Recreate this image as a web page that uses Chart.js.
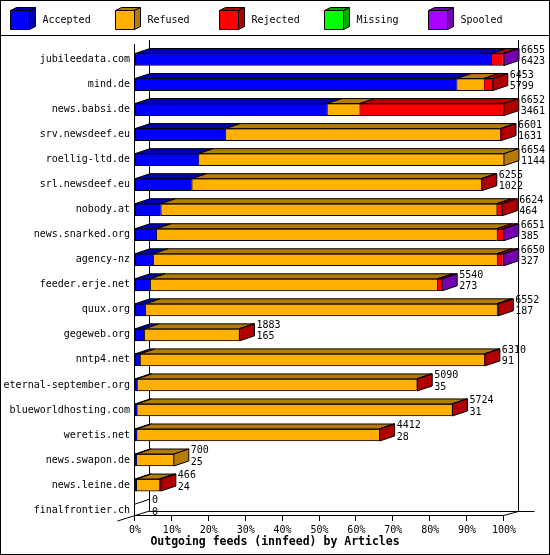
<!DOCTYPE html>
<html>
<head>
<meta charset="utf-8">
<title>Outgoing feeds (innfeed) by Articles</title>
<script src="https://cdn.jsdelivr.net/npm/chart.js@4.4.1/dist/chart.umd.min.js"></script>
<style>
  body { margin: 0; background: #fff; }
  #wrap { width: 550px; height: 555px; }
</style>
</head>
<body>
<div id="wrap"><canvas id="myChart" width="550" height="555"></canvas></div>
<script>
"use strict";
let feeds = [
  "jubileedata.com",
  "mind.de",
  "news.babsi.de",
  "srv.newsdeef.eu",
  "roellig-ltd.de",
  "srl.newsdeef.eu",
  "nobody.at",
  "news.snarked.org",
  "agency-nz",
  "feeder.erje.net",
  "quux.org",
  "gegeweb.org",
  "nntp4.net",
  "eternal-september.org",
  "blueworldhosting.com",
  "weretis.net",
  "news.swapon.de",
  "news.leine.de",
  "finalfrontier.ch",
];
// article counts per feed
let totals = [6655, 6453, 6652, 6601, 6654, 6255, 6624, 6651, 6650, 5540, 6552, 1883, 6310, 5090, 5724, 4412, 700, 466, 0];
let accepted = [6423, 5799, 3461, 1631, 1144, 1022, 464, 385, 327, 273, 187, 165, 91, 35, 31, 28, 25, 24, 0];
let refused = [0, 490, 588, 4955, 5510, 5223, 6055, 6138, 6196, 5179, 6336, 1711, 6209, 5045, 5685, 4375, 675, 415, 0];
let rejected = [210, 164, 2603, 15, 0, 10, 105, 115, 108, 79, 29, 7, 10, 10, 8, 9, 0, 27, 0];
let missing = [0, 0, 0, 0, 0, 0, 0, 0, 0, 0, 0, 0, 0, 0, 0, 0, 0, 0, 0];
let spooled = [22, 0, 0, 0, 0, 0, 0, 13, 19, 9, 0, 0, 0, 0, 0, 0, 0, 0, 0];
let seriesNames = ["Accepted", "Refused", "Rejected", "Missing", "Spooled"];
let xTicks = [0, 10, 20, 30, 40, 50, 60, 70, 80, 90, 100];

let frontColors = ["#0000ff", "#ffb000", "#ff0000", "#00ff00", "#aa00ff"];
let darkColors = ["#0000b0", "#b47c00", "#b00000", "#00a800", "#7400b0"];
let mono = "'DejaVu Sans Mono', 'Liberation Mono', monospace";

let seriesData = [accepted, refused, rejected, missing, spooled];
let maxTotal = Math.max(...totals);
function toPct(v) {
  return (v / maxTotal) * 100;
}

const DX = 15;
const DY = 5;

function poly(c, pts, fill) {
  c.beginPath();
  c.moveTo(pts[0][0], pts[0][1]);
  for (let k = 1; k < pts.length; k++) c.lineTo(pts[k][0], pts[k][1]);
  c.closePath();
  c.fillStyle = fill;
  c.fill();
  c.stroke();
}
function line(c, x1, y1, x2, y2) {
  c.beginPath();
  c.moveTo(x1, y1);
  c.lineTo(x2, y2);
  c.stroke();
}

//3d frame, bar depth, value labels and the box legend
let frame3d = {
  id: "frame3d",
  beforeDatasetsDraw(chart) {
    let c = chart.ctx;
    let a = chart.chartArea;
    let xs = chart.scales.x;
    let L = Math.round(a.left) - 0.5;
    let R = Math.round(a.right) - 0.5;
    let B = Math.round(a.bottom);
    let T = Math.round(a.top);
    c.save();
    c.strokeStyle = "#000";
    c.lineWidth = 1;
    // back wall
    line(c, L + DX, T - 7, L + DX, B - 12 + 0.5);
    line(c, R + DX, T - 7, R + DX, B - 12 + 0.5);
    line(c, L + DX, B - 11.5, R + DX + 16, B - 11.5);
    // front axis
    line(c, L, T - 3, L, B - 7);
    line(c, L, B - 7.5, R, B - 7.5);
    line(c, L - 17, B - 2, L + DX, B - 12);
    line(c, R, B - 7.5, R + DX, B - 11.5);
    xTicks.forEach((t) => {
      let px = Math.round(xs.getPixelForValue(t)) - 0.5;
      line(c, px, B - 7.5, px, B - 2);
    });
    c.restore();
  },
  afterDatasetsDraw(chart) {
    let c = chart.ctx;
    let a = chart.chartArea;
    c.save();
    c.strokeStyle = "#000";
    c.lineWidth = 1;
    for (let i = 0; i < feeds.length; i++) {
      let last = -1;
      let top = 0;
      let h = 0;
      let end = a.left;
      let midY = 0;
      for (let d = 0; d < seriesNames.length; d++) {
        let el = chart.getDatasetMeta(d).data[i];
        let p = el.getProps(["x", "base", "y", "height"], true);
        let l = Math.min(p.x, p.base);
        let r = Math.max(p.x, p.base);
        top = p.y - p.height / 2;
        h = p.height;
        midY = p.y;
        if (r - l > 0.01) {
          poly(c, [[l, top], [r, top], [r + DX, top - DY], [l + DX, top - DY]], darkColors[d]);
          last = d;
          end = r;
        }
      }
      if (last >= 0) {
        poly(c, [[end, top], [end + DX, top - DY], [end + DX, top - DY + h], [end, top + h]], darkColors[last]);
      } else {
        line(c, a.left, top, a.left + DX, top - DY);
      }
      c.fillStyle = "#000";
      c.font = "10px " + mono;
      c.textAlign = "left";
      c.textBaseline = "middle";
      c.fillText(String(totals[i]), end + DX + 2, midY - 9.5);
      c.fillText(String(accepted[i]), end + DX + 2, midY + 2);
    }
    c.restore();
  },
  afterDraw(chart) {
    let c = chart.ctx;
    c.save();
    c.strokeStyle = "#000";
    c.lineWidth = 1;
    c.strokeRect(0.5, 0.5, chart.width - 1, chart.height - 1);
    line(c, 0, 35.5, chart.width, 35.5);
    for (let i = 0; i < seriesNames.length; i++) {
      let bx = Math.round(10 + i * 104.5) + 0.5;
      let by = 10.5;
      poly(c, [[bx, by], [bx + 19, by], [bx + 25, by - 3], [bx + 6, by - 3]], darkColors[i]);
      poly(c, [[bx + 19, by], [bx + 25, by - 3], [bx + 25, by + 16], [bx + 19, by + 19]], darkColors[i]);
      poly(c, [[bx, by], [bx + 19, by], [bx + 19, by + 19], [bx, by + 19]], frontColors[i]);
      c.fillStyle = "#000";
      c.font = "10px " + mono;
      c.textAlign = "left";
      c.textBaseline = "middle";
      c.fillText(seriesNames[i], bx + 32, 20);
    }
    c.restore();
  },
};

let ctx = document.getElementById("myChart").getContext("2d");
let myChart = new Chart(ctx, {
  type: "bar",
  data: {
    labels: feeds,
    datasets: seriesNames.map((name, d) => ({
      label: name,
      data: seriesData[d].map(toPct),
      backgroundColor: frontColors[d],
      borderColor: "#000",
      borderWidth: { left: 1, top: 1, bottom: 1, right: 0 },
      borderSkipped: false,
      barThickness: 12,
    })),
  },
  options: {
    indexAxis: "y",
    responsive: false,
    animation: false,
    devicePixelRatio: 1,
    layout: { padding: { top: 47, right: 0, bottom: 6, left: 0 } },
    scales: {
      x: {
        stacked: true,
        min: 0,
        max: 100,
        grid: { display: false, drawTicks: false },
        border: { display: false },
        ticks: {
          stepSize: 10,
          padding: 2,
          color: "#000",
          font: { family: mono, size: 10 },
          callback: (v) => v + "%",
        },
        afterFit: (s) => {
          s.height = 12.6;
        },
      },
      y: {
        stacked: true,
        grid: { display: false, drawTicks: false },
        border: { display: false },
        ticks: {
          autoSkip: false,
          padding: 5,
          color: "#000",
          font: { family: mono, size: 10 },
        },
        afterFit: (s) => {
          s.width = 135;
        },
      },
      // empty strip on the right for the value labels
      yRight: {
        type: "category",
        position: "right",
        grid: { display: false, drawTicks: false },
        border: { display: false },
        ticks: { display: false },
        afterFit: (s) => {
          s.width = 46;
        },
      },
    },
    plugins: {
      legend: { display: false },
      tooltip: { enabled: false },
      title: {
        display: true,
        position: "bottom",
        text: "Outgoing feeds (innfeed) by Articles",
        color: "#000",
        font: { family: mono, size: 11.5, weight: "bold" },
        padding: { top: 0, bottom: 0 },
      },
    },
  },
  plugins: [frame3d],
});
</script>
</body>
</html>
